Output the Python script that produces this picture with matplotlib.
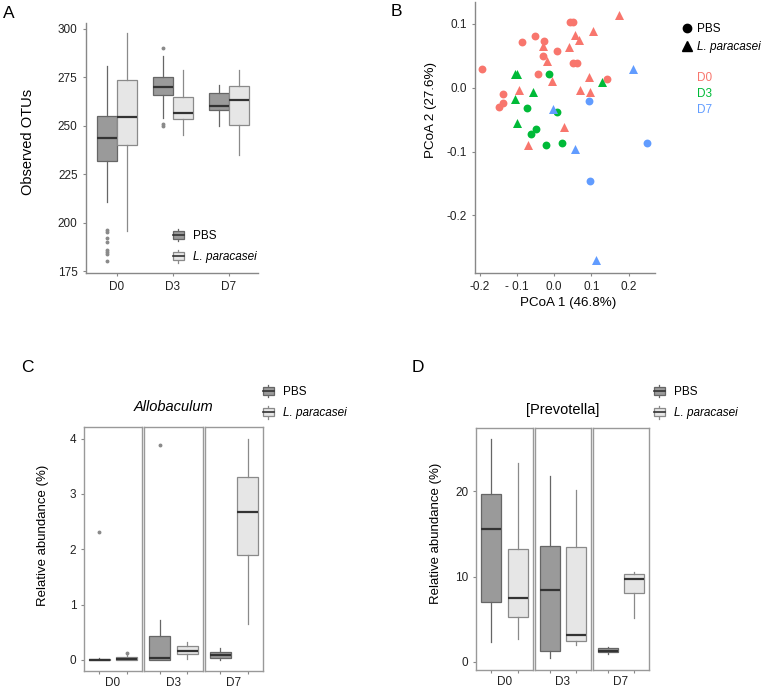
import matplotlib
matplotlib.use("Agg")
import matplotlib.pyplot as plt
from matplotlib.patches import Patch, Rectangle
from matplotlib.lines import Line2D
from matplotlib.legend_handler import HandlerBase

plt.rcParams['font.family'] = ['Liberation Sans', 'DejaVu Sans']

W, H = 768, 690

# ---- data ----
days = ['D0', 'D3', 'D7']
groups = ['PBS', 'L. paracasei']

# panel A: observed OTUs (q1, med, q3, whislo, whishi, fliers)
otu_pbs = [
    (231.6, 243.8, 255.2, 210.7, 281.0, [196, 195, 192, 190, 186, 185, 184, 180]),
    (266.0, 270.2, 275.0, 253.8, 286.0, [290, 251, 250]),
    (258.1, 260.2, 267.1, 249.8, 270.9, []),
]
otu_lp = [
    (239.8, 254.3, 273.6, 195.5, 297.8, []),
    (253.3, 256.6, 265.0, 245.2, 279.0, []),
    (250.3, 263.3, 270.7, 234.8, 279.0, []),
]

# panel B: PCoA coordinates
d0_pbs_x = [-0.193, -0.087, -0.052, -0.028, 0.007, 0.042, 0.051, -0.031, -0.044,
            -0.138, -0.139, -0.148, 0.051, 0.060, 0.143]
d0_pbs_y = [0.029, 0.071, 0.081, 0.073, 0.057, 0.102, 0.102, 0.049, 0.021,
            -0.010, -0.024, -0.030, 0.038, 0.038, 0.013]
d0_lp_x = [0.173, 0.104, 0.055, 0.067, 0.040, -0.029, -0.020, 0.093, -0.007,
           -0.095, 0.069, 0.097, 0.027, -0.070]
d0_lp_y = [0.114, 0.089, 0.083, 0.074, 0.063, 0.065, 0.041, 0.016, 0.011,
           -0.004, -0.004, -0.007, -0.062, -0.089]
d3_pbs_x = [-0.013, -0.072, 0.008, -0.049, -0.063, -0.021, 0.022]
d3_pbs_y = [0.021, -0.032, -0.038, -0.064, -0.073, -0.090, -0.086]
d3_lp_x = [-0.105, -0.100, -0.056, -0.105, -0.099, 0.129]
d3_lp_y = [0.022, 0.021, -0.007, -0.017, -0.055, 0.009]
d7_pbs_x = [0.093, 0.249, 0.097]
d7_pbs_y = [-0.021, -0.086, -0.146]
d7_lp_x = [0.212, -0.003, 0.057, 0.112]
d7_lp_y = [0.029, -0.034, -0.096, -0.269]

# panel C: Allobaculum relative abundance (%)
allo_pbs = [
    (0.0, 0.005, 0.02, 0.0, 0.04, [2.31]),
    (0.0, 0.04, 0.43, 0.0, 0.72, [3.89]),
    (0.04, 0.09, 0.15, 0.0, 0.21, []),
]
allo_lp = [
    (0.0, 0.02, 0.05, 0.0, 0.09, [0.12]),
    (0.10, 0.17, 0.25, 0.01, 0.33, []),
    (1.89, 2.68, 3.30, 0.65, 4.00, []),
]

# panel D: [Prevotella] relative abundance (%)
prev_pbs = [
    (7.0, 15.6, 19.7, 2.35, 26.1, []),
    (1.25, 8.4, 13.6, 0.4, 21.8, []),
    (1.1, 1.3, 1.57, 0.9, 1.76, []),
]
prev_lp = [
    (5.2, 7.45, 13.2, 2.67, 23.3, []),
    (2.43, 3.1, 13.5, 1.9, 20.2, []),
    (8.05, 9.7, 10.35, 5.1, 10.5, []),
]

# ---- style ----
PBS_FC, PBS_EC = '#9a9a9a', '#666666'
LP_FC, LP_EC = '#e6e6e6', '#8a8a8a'
MED_C = '#333333'
AX_C = '#888888'
DAY_COLORS = ['#F8766D', '#00BA38', '#619CFF']


def rect(x0, y0, x1, y1):
    return [x0 / W, 1 - y1 / H, (x1 - x0) / W, (y1 - y0) / H]


def to_stats(rows):
    return [dict(q1=r[0], med=r[1], q3=r[2], whislo=r[3], whishi=r[4], fliers=r[5])
            for r in rows]


def draw_boxes(ax, rows, positions, width, fc, ec):
    ax.bxp(to_stats(rows), positions=positions, widths=width, patch_artist=True,
           showcaps=False, manage_ticks=False,
           boxprops=dict(facecolor=fc, edgecolor=ec, linewidth=0.9),
           whiskerprops=dict(color=ec, linewidth=0.9),
           medianprops=dict(color=MED_C, linewidth=1.6),
           flierprops=dict(marker='o', markersize=1.8, markerfacecolor='#8a8a8a',
                           markeredgecolor='#8a8a8a'))


class BoxKey(HandlerBase):
    def create_artists(self, legend, orig_handle, xdescent, ydescent, width, height,
                       fontsize, trans):
        fc = orig_handle.get_facecolor()
        ec = orig_handle.get_edgecolor()
        x0, y0 = -xdescent, -ydescent
        vl = Line2D([x0 + width / 2] * 2, [y0 - 0.2 * height, y0 + 1.2 * height],
                    color=ec, lw=0.9, transform=trans)
        bx = Rectangle((x0, y0 + 0.05 * height), width, 0.9 * height, facecolor=fc,
                       edgecolor=ec, lw=0.9, transform=trans)
        md = Line2D([x0, x0 + width], [y0 + height / 2] * 2, color=MED_C, lw=1.2,
                    transform=trans)
        return [vl, bx, md]


def box_legend(fig, x, y):
    handles = [Patch(facecolor=PBS_FC, edgecolor=PBS_EC),
               Patch(facecolor=LP_FC, edgecolor=LP_EC)]
    leg = fig.legend(handles, groups, loc='upper left', bbox_to_anchor=(x / W, 1 - y / H),
                     frameon=False, fontsize=8.5, handlelength=0.9, handleheight=0.8,
                     handletextpad=0.8, labelspacing=0.8, borderaxespad=0, borderpad=0,
                     handler_map={Patch: BoxKey()})
    leg.get_texts()[1].set_style('italic')
    return leg


def style_spines(ax, sides):
    for s, sp in ax.spines.items():
        if s in sides:
            sp.set_color(AX_C)
            sp.set_linewidth(1.0)
        else:
            sp.set_visible(False)
    ax.tick_params(colors=AX_C, labelcolor='#222222', labelsize=8.5, length=2.5, width=0.8)


fig = plt.figure(figsize=(W / 100, H / 100), dpi=100)

# ---- panel A ----
axA = fig.add_axes(rect(86, 23, 258, 273))
pos = list(range(1, 4))
draw_boxes(axA, otu_pbs, [p - 0.18 for p in pos], 0.36, PBS_FC, PBS_EC)
draw_boxes(axA, otu_lp, [p + 0.18 for p in pos], 0.36, LP_FC, LP_EC)
axA.set_xlim(0.45, 3.52)
axA.set_ylim(174, 303)
axA.set_yticks([175, 200, 225, 250, 275, 300])
axA.set_xticks(pos)
axA.set_xticklabels(days)
style_spines(axA, ['left', 'bottom'])
axA.set_ylabel('Observed OTUs', fontsize=10.5)
axA.yaxis.set_label_coords(-0.295, 0.525)
box_legend(fig, 173, 230)

# ---- panel B ----
axB = fig.add_axes(rect(475, 2, 655, 273))
axB.scatter(d0_pbs_x, d0_pbs_y, marker='o', s=32, color=DAY_COLORS[0], lw=0)
axB.scatter(d0_lp_x, d0_lp_y, marker='^', s=42, color=DAY_COLORS[0], lw=0)
axB.scatter(d3_pbs_x, d3_pbs_y, marker='o', s=32, color=DAY_COLORS[1], lw=0)
axB.scatter(d3_lp_x, d3_lp_y, marker='^', s=42, color=DAY_COLORS[1], lw=0)
axB.scatter(d7_pbs_x, d7_pbs_y, marker='o', s=32, color=DAY_COLORS[2], lw=0)
axB.scatter(d7_lp_x, d7_lp_y, marker='^', s=42, color=DAY_COLORS[2], lw=0)
axB.set_xlim(-0.213, 0.271)
axB.set_ylim(-0.290, 0.134)
axB.set_xticks([-0.2, -0.1, 0.0, 0.1, 0.2])
axB.set_xticklabels(['-0.2', '- 0.1', '0.0', '0.1', '0.2'])
axB.set_yticks([-0.2, -0.1, 0.0, 0.1])
axB.set_yticklabels(['-0.2', '-0.1', '0.0', '0.1'])
style_spines(axB, ['left', 'bottom'])
axB.set_xlabel('PCoA 1 (46.8%)', fontsize=9.6)
axB.set_ylabel('PCoA 2 (27.6%)', fontsize=9.6)
axB.xaxis.set_label_coords(0.52, -0.09)
axB.yaxis.set_label_coords(-0.212, 0.60)

shape_handles = [Line2D([], [], marker='o', color='black', linestyle='none', markersize=6),
                 Line2D([], [], marker='^', color='black', linestyle='none', markersize=6.5)]
legS = fig.legend(shape_handles, groups, loc='upper left', bbox_to_anchor=(682 / W, 1 - 23 / H),
                  frameon=False, fontsize=8.5, handlelength=0.8, handletextpad=0.5,
                  labelspacing=0.55, borderaxespad=0, borderpad=0)
legS.get_texts()[1].set_style('italic')
color_handles = [Line2D([], [], color=c, linestyle='none') for c in DAY_COLORS]
fig.legend(color_handles, days, loc='upper left', bbox_to_anchor=(682 / W, 1 - 72 / H),
           frameon=False, fontsize=8.5, handlelength=0.8, handletextpad=0.5,
           labelspacing=0.35, borderaxespad=0, borderpad=0, labelcolor=DAY_COLORS)


# ---- panels C and D (facetted) ----
def facet_panel(edges, top, bottom, pbs, lp, ylim, yticks, title, italic, ylab_x, ylab_y,
                title_y):
    axes = []
    for i, (x0, x1) in enumerate(edges):
        ax = fig.add_axes(rect(x0, top, x1, bottom))
        draw_boxes(ax, [pbs[i]], [-0.28], 0.42, PBS_FC, PBS_EC)
        draw_boxes(ax, [lp[i]], [0.28], 0.42, LP_FC, LP_EC)
        ax.set_xlim(-0.6, 0.6)
        ax.set_ylim(*ylim)
        ax.set_yticks(yticks)
        ax.set_xticks([0])
        ax.set_xticklabels([days[i]])
        ax.set_xticks([-0.28, 0.28], minor=True)
        for sp in ax.spines.values():
            sp.set_color('#999999')
            sp.set_linewidth(1.0)
        ax.tick_params(axis='both', colors=AX_C, labelcolor='#222222', labelsize=8.5,
                       width=0.8, length=2)
        ax.tick_params(axis='x', which='major', length=0, pad=4)
        ax.tick_params(axis='x', which='minor', length=2, colors=AX_C, width=0.8)
        if i > 0:
            ax.tick_params(axis='y', length=0, labelleft=False)
        axes.append(ax)
    axes[0].set_ylabel('Relative abundance (%)', fontsize=9.5)
    axes[0].yaxis.set_label_coords(ylab_x, ylab_y)
    cx = (edges[0][0] + edges[-1][1]) / 2
    fig.text(cx / W, 1 - title_y / H, title, ha='center', va='center', fontsize=10.5,
             style='italic' if italic else 'normal')
    return axes


facet_panel([(84, 142), (144, 203), (205, 263)], 427, 671, allo_pbs, allo_lp,
            (-0.2, 4.21), [0, 1, 2, 3, 4], 'Allobaculum', True, -0.6, 0.557, 407)
box_legend(fig, 263, 386)

facet_panel([(476, 533), (535, 591), (593, 649)], 428, 670, prev_pbs, prev_lp,
            (-0.98, 27.45), [0, 10, 20], '[Prevotella]', False, -0.6, 0.566, 410)
box_legend(fig, 654, 386)

# panel letters
for lab, (x, y) in zip('ABCD', [(9, 13), (396, 12), (27, 368), (418, 368)]):
    fig.text(x / W, 1 - y / H, lab, ha='center', va='center', fontsize=12.5)

fig.savefig('out.png', dpi=100)
